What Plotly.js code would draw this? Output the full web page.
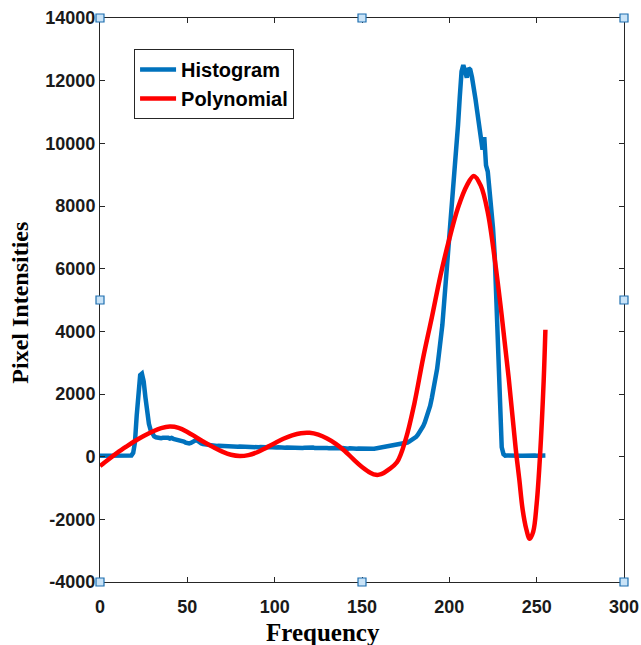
<!DOCTYPE html>
<html>
<head>
<meta charset="utf-8">
<script src="https://cdn.plot.ly/plotly-3.0.1.min.js"></script>
<style>html,body{margin:0;padding:0;background:#fff;}#chart{width:641px;height:645px;}</style>
</head>
<body>
<div id="chart"></div>
<script>
// Histogram counts for gray levels 0..255
const histY = [
  30,30,35,30,30,35,30,30,35,30,30,30,35,30,30,35,30,30,40,
  120,450,1300,2200,2600,2650,2400,1900,1400,1050,850,720,650,620,600,610,590,600,610,590,600,580,600,570,560,550,540,530,500,480,450,430,420,440,480,520,530,500,450,420,400,390,
  380,370,360,370,350,360,340,350,345,340,
  330,340,335,320,330,325,330,320,315,325,
  320,310,320,315,305,310,320,300,310,305,
  300,310,295,305,300,310,300,295,305,300,
  295,300,290,300,295,285,295,290,300,285,
  290,280,295,285,290,280,285,290,275,285,
  280,290,275,280,270,285,275,280,270,275,
  270,280,265,275,270,260,270,265,275,260,
  265,255,270,260,255,265,250,260,255,250,
  255,250,260,250,245,255,250,260,255,265,270,280,290,300,320,
  330,340,350,360,370,380,390,400,420,440,
  450,480,510,540,580,630,700,780,870,970,
  1100,1250,1420,1620,1880,2150,2450,2800,3250,3700,
  4200,4900,5600,6400,7100,7700,8200,8900,9800,10600,
  11500,12300,12500,12300,12100,12400,12350,12100,11800,11400,
  11000,10600,10200,9800,10200,9300,9100,8600,8100,7300,
  6400,5000,3700,1500,300,80,
  30,35,30,30,35,30,30,35,30,30,30,35,30,30,35,30,30,35,30,30,35,30,30,35
];
const histX = histY.map((_, i) => i);

// Polynomial fit samples
const polyX = [0,5,10,15,20,25,30,35,40,45,50,55,60,65,70,75,80,85,90,95,100,105,110,115,120,125,130,135,140,145,150,155,158,161,165,170,175,180,185,190,195,200,205,210,214,218,222,226,230,234,238,240,242,244,246,248,250,252,254,255];
const polyY = [-300,-80,130,320,500,660,800,910,960,920,790,620,450,300,160,60,20,50,140,280,430,570,680,750,760,700,580,410,190,-80,-330,-520,-580,-560,-420,-180,550,1700,3150,4450,5800,6950,7950,8650,8960,8650,7800,6300,4500,2500,250,-700,-1700,-2300,-2620,-2400,-1500,100,2400,4050];

const xTicks = [0,50,100,150,200,250,300];
const yTicks = [-4000,-2000,0,2000,4000,6000,8000,10000,12000,14000];
const seriesNames = ['Histogram','Polynomial'];

const handlePos = [[0,1],[0.5,1],[1,1],[0,0.5],[1,0.5],[0,0],[0.5,0],[1,0]];
const shapes = handlePos.map(p => ({
  type:'rect', xref:'paper', yref:'paper', xsizemode:'pixel', ysizemode:'pixel',
  xanchor:p[0], yanchor:p[1], x0:-4, x1:4, y0:-4, y1:4,
  fillcolor:'#c9e3f7', line:{color:'#1f6fb0', width:1.2}, layer:'above'
}));

const traces = [
  {x:histX, y:histY, type:'scatter', mode:'lines', name:seriesNames[0],
   line:{color:'#0072BD', width:4.5}},
  {x:polyX, y:polyY, type:'scatter', mode:'lines', name:seriesNames[1],
   line:{color:'#FF0000', width:4.5, shape:'spline', smoothing:1}}
];

const tickFont = {family:'Liberation Sans, Arial, sans-serif', size:18, color:'#1a1a1a', weight:'bold'};
const layout = {
  width:641, height:645,
  margin:{l:100, r:17, t:18, b:63},
  paper_bgcolor:'#ffffff', plot_bgcolor:'#ffffff',
  showlegend:true,
  legend:{x:0.065, y:0.945, xanchor:'left', yanchor:'top', bgcolor:'#ffffff',
    bordercolor:'#262626', borderwidth:1,
    font:{family:'Liberation Sans, Arial, sans-serif', size:20, color:'#000', weight:'bold'},
    tracegroupgap:0, itemwidth:36},
  xaxis:{range:[0,300], tickvals:xTicks, ticktext:xTicks.map(String), showgrid:false, zeroline:false,
    showline:true, linecolor:'#262626', linewidth:1, mirror:'ticks', ticks:'inside', ticklen:5,
    tickcolor:'#262626', tickfont:tickFont, ticklabelstandoff:8},
  yaxis:{range:[-4000,14000], tickvals:yTicks, ticktext:yTicks.map(String), showgrid:false, zeroline:false,
    showline:true, linecolor:'#262626', linewidth:1, mirror:'ticks', ticks:'inside', ticklen:5,
    tickcolor:'#262626', tickfont:tickFont},
  shapes:shapes,
  annotations:[
    {text:'<b>Frequency</b>', xref:'paper', yref:'paper', x:0.4256, y:-0.0887, xanchor:'center', yanchor:'middle',
     showarrow:false, font:{family:'Liberation Serif, Times New Roman, serif', size:25, color:'#000'}},
    {text:'<b>Pixel Intensities</b>', xref:'paper', yref:'paper', x:-0.153, y:0.495, xanchor:'center', yanchor:'middle',
     textangle:-90, showarrow:false, font:{family:'Liberation Serif, Times New Roman, serif', size:24, color:'#000'}}
  ]
};
Plotly.newPlot('chart', traces, layout, {displayModeBar:false, staticPlot:true});
</script>
</body>
</html>
